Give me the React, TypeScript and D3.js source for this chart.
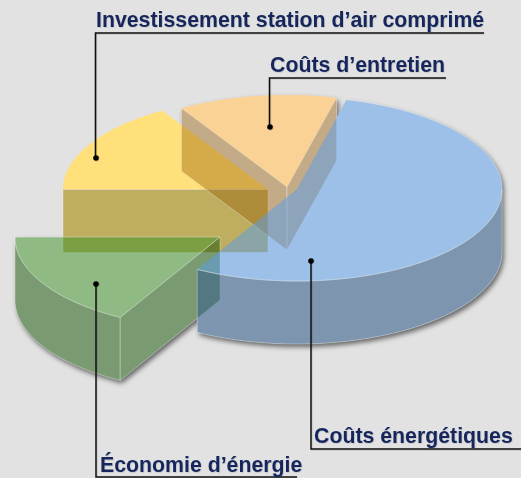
import React from "react";
import * as d3 from "d3";

const width = 521;
const height = 478;

// Data, in the order the pie runs clockwise from its first angle
const categories = ["Coûts énergétiques", "Économie d’énergie", "Investissement station d’air comprimé", "Coûts d’entretien"];
const shares = [54.2, 16.9, 16.4, 12.5];
const firstAngleDeg = 14;

// Styling / layout, per category
const centersX = [297, 220, 268, 287];
const centersY = [189, 237, 189.5, 187];
const topFills = ["rgba(88,158,238,0.5)", "rgba(60,146,38,0.5)", "rgb(255,224,122)", "rgb(251,210,150)"];
const wallFills = ["rgba(58,98,140,0.6)", "rgba(18,82,0,0.5)", "rgb(191,173,96)", "rgba(150,90,0,0.4)"];
const labelX = [314, 100, 96, 270];
const labelY = [443, 472, 27, 72];
const ruleX = [[311, 521], [96, 297], [95.5, 484], [269.5, 446]];
const ruleY = [449, 477, 33, 78];
const dotX = [311, 96, 96, 270];
const dotY = [261, 284, 158, 127];

const rx = 205;
const ry = 92;
const depth = 63;
const ink = "#15275C";
const TAU = Math.PI * 2;

const scaleU = d3.scaleLinear().domain([-1, 1]).range([-rx, rx]);
const scaleV = d3.scaleLinear().domain([-1, 1]).range([-ry, ry]);

const slices = d3
  .pie<number>()
  .sort(null)
  .startAngle((firstAngleDeg * Math.PI) / 180)
  .endAngle((firstAngleDeg * Math.PI) / 180 + TAU)(shares);

type P = [number, number];
const project = (i: number, a: number, r = 1, drop = 0): P => [
  centersX[i] + scaleU(Math.sin(a) * r),
  centersY[i] + scaleV(-Math.cos(a) * r) + drop,
];
const line = d3.line<P>();
const arcPts = (i: number, a0: number, a1: number, drop = 0): P[] => {
  const n = Math.max(2, Math.ceil(Math.abs(a1 - a0) / 0.02));
  return d3.range(n + 1).map((k) => project(i, a0 + ((a1 - a0) * k) / n, 1, drop));
};
const topPath = (i: number) => {
  const s = slices[i];
  return line([project(i, 0, 0), ...arcPts(i, s.startAngle, s.endAngle)]) + "Z";
};
const radialWall = (i: number, a: number) =>
  line([project(i, 0, 0), project(i, a), project(i, a, 1, depth), project(i, 0, 0, depth)]) + "Z";
const outerWall = (i: number, a0: number, a1: number) =>
  line([...arcPts(i, a0, a1), ...arcPts(i, a1, a0, depth)]) + "Z";

const rad = (d: number) => (d * Math.PI) / 180;
const [BLUE, GREEN, YELLOW, ORANGE] = [0, 1, 2, 3];

const edge = { stroke: "rgba(255,255,255,0.4)", strokeWidth: 0.8, strokeLinejoin: "round" as const };

function silhouettes() {
  const blue = [topPath(BLUE), outerWall(BLUE, rad(90), slices[BLUE].endAngle)];
  const green = [topPath(GREEN), outerWall(GREEN, slices[GREEN].startAngle, slices[GREEN].endAngle), radialWall(GREEN, slices[GREEN].startAngle)];
  const orange = [topPath(ORANGE), radialWall(ORANGE, slices[ORANGE].startAngle), radialWall(ORANGE, slices[ORANGE].endAngle)];
  return [...green, ...orange, ...blue];
}

export default function App() {
  const sYellow = slices[YELLOW];
  const sGreen = slices[GREEN];
  const sBlue = slices[BLUE];
  const sOrange = slices[ORANGE];
  return (
    <svg
      width={width}
      height={height}
      viewBox={`0 0 ${width} ${height}`}
      style={{ position: "fixed", left: 0, top: 0, display: "block", background: "#E2E2E2" }}
    >
      <defs>
        <filter id="outerShadow" x="-10%" y="-10%" width="125%" height="130%">
          <feGaussianBlur in="SourceAlpha" stdDeviation="2.6" result="b" />
          <feOffset in="b" dx="2" dy="3" result="o" />
          <feComposite in="o" in2="SourceAlpha" operator="out" result="c" />
          <feFlood floodColor="#000" floodOpacity="0.55" />
          <feComposite in2="c" operator="in" />
        </filter>
        <filter id="softText" x="-5%" y="-20%" width="110%" height="140%">
          <feDropShadow dx="0.7" dy="0.7" stdDeviation="0.5" floodColor="#000" floodOpacity="0.15" />
        </filter>
      </defs>

      <g filter="url(#outerShadow)">
        {silhouettes().map((d, i) => (
          <path key={i} d={d} fill="#000" />
        ))}
      </g>

      {/* yellow */}
      <path d={topPath(YELLOW)} fill={topFills[YELLOW]} />
      <path d={radialWall(YELLOW, sYellow.startAngle)} fill={wallFills[YELLOW]} {...edge} />

      {/* green */}
      <path d={outerWall(GREEN, sGreen.startAngle, sGreen.endAngle)} fill={wallFills[GREEN]} {...edge} />
      <path d={radialWall(GREEN, sGreen.startAngle)} fill={wallFills[GREEN]} {...edge} />
      <path d={topPath(GREEN)} fill={topFills[GREEN]} {...edge} />

      {/* orange walls, under the blue slice */}
      <path d={radialWall(ORANGE, sOrange.startAngle)} fill={wallFills[ORANGE]} {...edge} />
      <path d={radialWall(ORANGE, sOrange.endAngle)} fill={wallFills[ORANGE]} {...edge} />

      {/* blue */}
      <path d={outerWall(BLUE, rad(90), sBlue.endAngle)} fill={wallFills[BLUE]} {...edge} />
      <path d={topPath(BLUE)} fill={topFills[BLUE]} />
      <path d={line(arcPts(BLUE, sBlue.startAngle, sBlue.endAngle)) as string} fill="none" {...edge} />

      {/* orange top */}
      <path d={topPath(ORANGE)} fill={topFills[ORANGE]} />

      {/* leaders and labels */}
      {categories.map((c, i) => (
        <g key={c} filter="url(#softText)">
          <path
            d={`M${ruleX[i][1]},${ruleY[i]}H${ruleX[i][0]}V${dotY[i]}`}
            fill="none"
            stroke="#111"
            strokeWidth={1.5}
          />
          <circle cx={dotX[i]} cy={dotY[i]} r={2.8} fill="#000" />
          <text
            x={labelX[i]}
            y={labelY[i]}
            fontFamily="'Liberation Sans', Arial, sans-serif"
            fontWeight="bold"
            fontSize={21.3}
            fill={ink}
          >
            {c}
          </text>
        </g>
      ))}
    </svg>
  );
}
